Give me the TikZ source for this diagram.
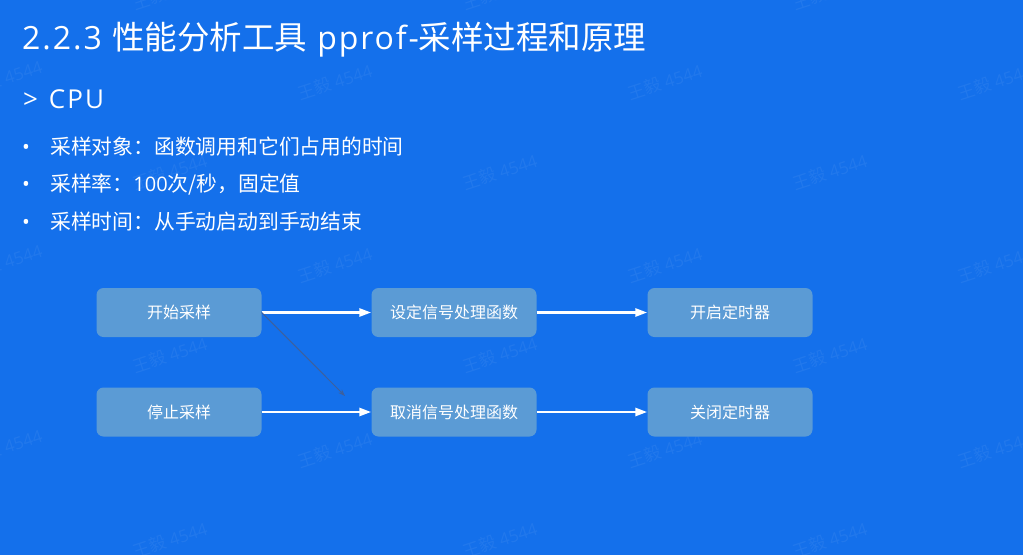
\documentclass[tikz,border=0pt]{standalone}
\usepackage{fontspec}
\setmainfont{Noto Sans CJK SC}
\newfontfamily\lat{Open Sans}
\newfontfamily\latsp[LetterSpace=6]{Open Sans}
\newfontfamily\latcpu[LetterSpace=8]{Open Sans}
\usetikzlibrary{arrows.meta}
\definecolor{bg}{RGB}{20,112,235}
\definecolor{boxfill}{RGB}{91,155,213}
\definecolor{diag}{RGB}{62,96,156}
\tikzset{
  stepbox/.style={draw=none, fill=boxfill, rounded corners=7pt, minimum width=165pt, minimum height=49pt, inner sep=0pt, text=white, font=\fontsize{16pt}{18pt}\selectfont},
  flow/.style={draw=white, line width=2.6pt, -{Triangle[length=12pt,width=8pt]}},
  thin/.style={draw=diag, line width=1pt, -{Stealth[length=7pt,width=5pt]}},
  wmark/.style={text=white, text opacity=0.06, rotate=18, font=\fontsize{17pt}{19pt}\selectfont},
  bullettxt/.style={anchor=base west, text=white, inner sep=0pt, font=\fontsize{20.8pt}{24pt}\selectfont},
}
\begin{document}
\begin{tikzpicture}[x=1pt,y=-1pt]
\fill[bg] (0,0) rectangle (1023,555);
\useasboundingbox (0,0) rectangle (1023,555);
% watermarks
\foreach \wx/\wy [count=\i] in {5/78,335/82,665/82,995/82,170/172,500/172,830/172,5/262,335/265,665/265,995/265,170/355,500/355,830/355,5/447,335/450,665/450,995/450,170/540,500/540,830/540,500/-8,830/-8,170/-8}
  \node[wmark] (w\i) at (\wx,\wy) {王毅 {\lat 4544}};
% title
\node[anchor=base west, text=white, inner sep=0pt, font=\fontsize{32.5pt}{36pt}\selectfont] (title) at (22,49) {{\latsp\fontsize{32pt}{36pt}\selectfont 2.2.3 }性能分析工具{\latsp\fontsize{32pt}{36pt}\selectfont{} pprof-}采样过程和原理};
\node[anchor=base west, text=white, inner sep=0pt, font=\latcpu\fontsize{26pt}{30pt}\selectfont] (cpu) at (23,108) {>\hspace{2pt} CPU};
% bullets
\node[bullettxt] (d1) at (22,154) {\lat •};
\node[bullettxt] (l1) at (50,154) {采样对象：函数调用和它们占用的时间};
\node[bullettxt] (d2) at (22,191) {\lat •};
\node[bullettxt] (l2) at (50,191) {采样率：{\lat\fontsize{20pt}{24pt}\selectfont 100}次/秒，固定值};
\node[bullettxt] (d3) at (22,229) {\lat •};
\node[bullettxt] (l3) at (50,229) {采样时间：从手动启动到手动结束};
% boxes
\node[stepbox] (b1) at (179,312.5) {开始采样};
\node[stepbox] (b2) at (454,312.5) {设定信号处理函数};
\node[stepbox] (b3) at (730,312.5) {开启定时器};
\node[stepbox] (b4) at (179,412) {停止采样};
\node[stepbox] (b5) at (454,412) {取消信号处理函数};
\node[stepbox] (b6) at (730,412) {关闭定时器};
% connectors
\draw[flow] (b1.east) -- (b2.west);
\draw[flow] (b2.east) -- (b3.west);
\draw[flow] (b4.east) -- (b5.west);
\draw[flow] (b5.east) -- (b6.west);
\coordinate (dend) at (345,396);
\draw[thin] (b1.east) -- (dend);
\end{tikzpicture}
\end{document}
